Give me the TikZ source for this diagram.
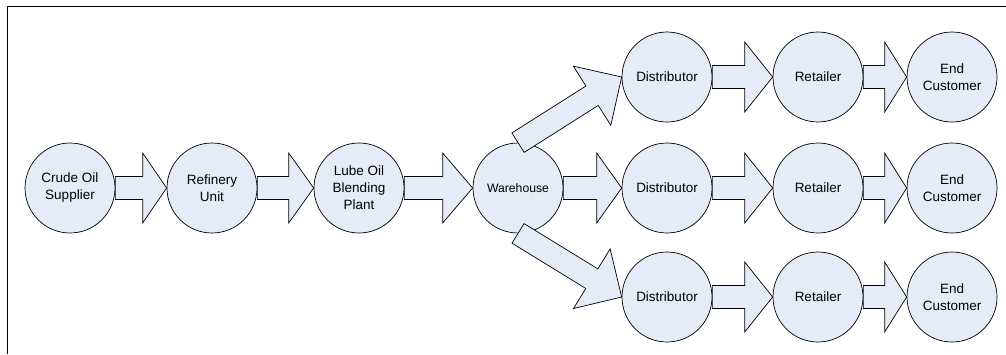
\documentclass[tikz,border=0pt]{standalone}
\usepackage{fontspec}
\setmainfont{Liberation Sans}
\usetikzlibrary{calc}
\definecolor{nodefill}{RGB}{230,236,247}
\tikzset{
  stage/.style={circle, draw=black, line width=0.7pt, fill=nodefill, minimum size=90pt, inner sep=0pt, align=center, font=\fontsize{13.5}{17}\selectfont},
  smallstage/.style={stage, font=\fontsize{12.2}{15}\selectfont},
  fatarrow/.style={draw=black, line width=0.7pt, fill=nodefill, line join=miter},
  frameline/.style={draw=black, line width=1pt}
}
% #1 start, #2 end, #3 head length
\newcommand\bigarrow[3]{%
  \coordinate (hb) at ($(#2)!#3!(#1)$);
  \path[fatarrow] ($(#1)!11.5pt!90:(#2)$) -- ($(hb)!11.5pt!90:(#2)$) -- ($(hb)!35pt!90:(#2)$) -- (#2)
    -- ($(hb)!35pt!-90:(#2)$) -- ($(hb)!11.5pt!-90:(#2)$) -- ($(#1)!11.5pt!-90:(#2)$) -- cycle;
}
\begin{document}
\begin{tikzpicture}[x=1pt,y=-1pt]
\useasboundingbox (0,0) rectangle (1006,354);
\coordinate (fa) at (7,354);
\coordinate (fb) at (7,6);
\coordinate (fc) at (1006,6);
\draw[frameline] (fa) -- (fb) -- (fc);

\node[stage] (crude) at (70,188) {Crude Oil\\Supplier};
\node[stage] (ref) at (212,188) {Refinery\\Unit};
\node[stage] (lube) at (359,188) {Lube Oil\\Blending\\Plant};
\node[smallstage] (wh) at (518,188) {Warehouse};

\node[stage] (d1) at (667,77) {Distributor};
\node[stage] (d2) at (667,188) {Distributor};
\node[stage] (d3) at (667,297) {Distributor};
\node[stage] (r1) at (818,77) {Retailer};
\node[stage] (r2) at (818,188) {Retailer};
\node[stage] (r3) at (818,297) {Retailer};
\node[stage] (e1) at (952,77) {End\\Customer};
\node[stage] (e2) at (952,188) {End\\Customer};
\node[stage] (e3) at (952,297) {End\\Customer};

\bigarrow{crude.east}{ref.west}{24pt}
\bigarrow{ref.east}{lube.west}{25pt}
\bigarrow{lube.east}{wh.west}{30pt}
\bigarrow{wh.east}{d2.west}{25pt}
\bigarrow{wh.north}{d1.west}{35pt}
\bigarrow{wh.south}{d3.west}{35pt}
\bigarrow{d1.east}{r1.west}{28pt}
\bigarrow{d2.east}{r2.west}{28pt}
\bigarrow{d3.east}{r3.west}{28pt}
\bigarrow{r1.east}{e1.west}{22pt}
\bigarrow{r2.east}{e2.west}{22pt}
\bigarrow{r3.east}{e3.west}{22pt}
\end{tikzpicture}
\end{document}
